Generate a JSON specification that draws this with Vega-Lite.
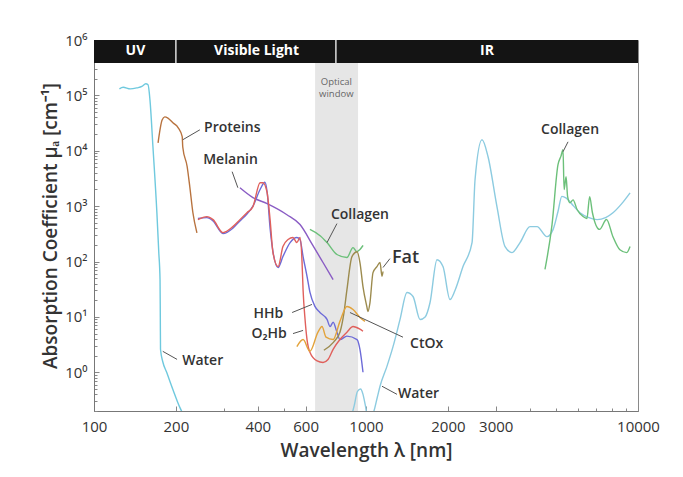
{
"$schema":"https://vega.github.io/schema/vega-lite/v6.json",
"width":544,"height":371,
"autosize":{"type":"none"},
"padding":{"left":94,"top":40,"right":45,"bottom":66},
"background":"white",
"config":{"view":{"stroke":"#8a8a8a","strokeWidth":1},"font":"Open Sans"},
"datasets":{
"window":[{"w":650,"w2":935,"a":0.2,"a2":385000}],
"band":[{"w":100,"w2":10000,"a":385000,"a2":1000000}],
"dividers":[{"w":200,"a":385000,"a2":1000000},{"w":775,"a":385000,"a2":1000000}],
"bandtext":[{"t":"UV","w":142,"a":620000},{"t":"Visible Light","w":396,"a":620000},{"t":"IR","w":2786,"a":620000}],
"notes":[{"t":"Optical","w":778,"a":178000},{"t":"window","w":778,"a":104000}],
"curves":[
{"s":"Water1","w":124,"a":131000},{"s":"Water1","w":128,"a":140000},{"s":"Water1","w":136,"a":131000},{"s":"Water1","w":144,"a":137000},{"s":"Water1","w":150,"a":145000},{"s":"Water1","w":155,"a":162000},{"s":"Water1","w":158,"a":155000},{"s":"Water1","w":160.6,"a":83000},{"s":"Water1","w":164.7,"a":11800},{"s":"Water1","w":170.3,"a":760},{"s":"Water1","w":173,"a":150},{"s":"Water1","w":174.9,"a":47},{"s":"Water1","w":175.3,"a":10},{"s":"Water1","w":175.6,"a":2.6},{"s":"Water1","w":179,"a":1.55},{"s":"Water1","w":185,"a":1.0},{"s":"Water1","w":195,"a":0.49},{"s":"Water1","w":207,"a":0.23},{"s":"Water1","w":212,"a":0.18},
{"s":"Water2","w":880,"a":0.15},{"s":"Water2","w":905,"a":0.25},{"s":"Water2","w":930,"a":0.45},{"s":"Water2","w":955,"a":0.5},{"s":"Water2","w":975,"a":0.4},{"s":"Water2","w":995,"a":0.25},{"s":"Water2","w":1016,"a":0.15},{"s":"Water2","w":1061,"a":0.18},{"s":"Water2","w":1100,"a":0.35},{"s":"Water2","w":1126,"a":0.56},{"s":"Water2","w":1194,"a":1.28},{"s":"Water2","w":1257,"a":2.9},{"s":"Water2","w":1334,"a":9},{"s":"Water2","w":1415,"a":27.6},{"s":"Water2","w":1489,"a":23.4},{"s":"Water2","w":1580,"a":9},{"s":"Water2","w":1650,"a":10},{"s":"Water2","w":1719,"a":18},{"s":"Water2","w":1824,"a":108},{"s":"Water2","w":1919,"a":81},{"s":"Water2","w":2036,"a":20.6},{"s":"Water2","w":2124,"a":30},{"s":"Water2","w":2273,"a":81},{"s":"Water2","w":2454,"a":220},{"s":"Water2","w":2517,"a":3000},{"s":"Water2","w":2670,"a":15800},{"s":"Water2","w":2810,"a":7800},{"s":"Water2","w":3030,"a":980},{"s":"Water2","w":3245,"a":186},{"s":"Water2","w":3442,"a":145},{"s":"Water2","w":3684,"a":220},{"s":"Water2","w":4009,"a":427},{"s":"Water2","w":4253,"a":427},{"s":"Water2","w":4627,"a":282},{"s":"Water2","w":4871,"a":377},{"s":"Water2","w":5080,"a":800},{"s":"Water2","w":5250,"a":1500},{"s":"Water2","w":5450,"a":1400},{"s":"Water2","w":5800,"a":1000},{"s":"Water2","w":6120,"a":760},{"s":"Water2","w":6600,"a":620},{"s":"Water2","w":7070,"a":570},{"s":"Water2","w":7600,"a":620},{"s":"Water2","w":8090,"a":760},{"s":"Water2","w":8700,"a":1100},{"s":"Water2","w":9350,"a":1740},
{"s":"Proteins","w":172,"a":13900},{"s":"Proteins","w":178,"a":36000},{"s":"Proteins","w":182,"a":41000},{"s":"Proteins","w":187,"a":39000},{"s":"Proteins","w":195,"a":32000},{"s":"Proteins","w":204,"a":26000},{"s":"Proteins","w":211,"a":18000},{"s":"Proteins","w":212,"a":11700},{"s":"Proteins","w":220,"a":5200},{"s":"Proteins","w":225,"a":2240},{"s":"Proteins","w":231,"a":760},{"s":"Proteins","w":239,"a":330},
{"s":"Melanin","w":344,"a":2150},{"s":"Melanin","w":384,"a":1430},{"s":"Melanin","w":433,"a":1110},{"s":"Melanin","w":512,"a":700},{"s":"Melanin","w":572,"a":465},{"s":"Melanin","w":636,"a":200},{"s":"Melanin","w":695,"a":96},{"s":"Melanin","w":757,"a":47},
{"s":"Collagen1","w":622,"a":380},{"s":"Collagen1","w":680,"a":290},{"s":"Collagen1","w":719,"a":220},{"s":"Collagen1","w":782,"a":134},{"s":"Collagen1","w":851,"a":118},{"s":"Collagen1","w":896,"a":178},{"s":"Collagen1","w":925,"a":150},{"s":"Collagen1","w":950,"a":165},{"s":"Collagen1","w":975,"a":195},
{"s":"Collagen2","w":4550,"a":72},{"s":"Collagen2","w":4830,"a":465},{"s":"Collagen2","w":5080,"a":5600},{"s":"Collagen2","w":5210,"a":8000},{"s":"Collagen2","w":5300,"a":10400},{"s":"Collagen2","w":5350,"a":2000},{"s":"Collagen2","w":5440,"a":3400},{"s":"Collagen2","w":5510,"a":1500},{"s":"Collagen2","w":5620,"a":1150},{"s":"Collagen2","w":5770,"a":1300},{"s":"Collagen2","w":5970,"a":870},{"s":"Collagen2","w":6280,"a":650},{"s":"Collagen2","w":6490,"a":600},{"s":"Collagen2","w":6640,"a":1480},{"s":"Collagen2","w":6800,"a":760},{"s":"Collagen2","w":7220,"a":380},{"s":"Collagen2","w":7660,"a":575},{"s":"Collagen2","w":8090,"a":280},{"s":"Collagen2","w":8580,"a":163},{"s":"Collagen2","w":9090,"a":145},{"s":"Collagen2","w":9350,"a":186},
{"s":"HHb","w":241,"a":600},{"s":"HHb","w":260,"a":620},{"s":"HHb","w":274,"a":540},{"s":"HHb","w":298,"a":320},{"s":"HHb","w":324,"a":400},{"s":"HHb","w":344,"a":540},{"s":"HHb","w":365,"a":720},{"s":"HHb","w":384,"a":1000},{"s":"HHb","w":408,"a":2000},{"s":"HHb","w":425,"a":2700},{"s":"HHb","w":433,"a":1800},{"s":"HHb","w":444,"a":400},{"s":"HHb","w":455,"a":150},{"s":"HHb","w":475,"a":78},{"s":"HHb","w":495,"a":123},{"s":"HHb","w":526,"a":220},{"s":"HHb","w":557,"a":271},{"s":"HHb","w":572,"a":249},{"s":"HHb","w":587,"a":123},{"s":"HHb","w":607,"a":54},{"s":"HHb","w":622,"a":28},{"s":"HHb","w":649,"a":15.5},{"s":"HHb","w":677,"a":12},{"s":"HHb","w":719,"a":9},{"s":"HHb","w":738,"a":6.7},{"s":"HHb","w":757,"a":8},{"s":"HHb","w":782,"a":5.3},{"s":"HHb","w":802,"a":3.9},{"s":"HHb","w":851,"a":4.5},{"s":"HHb","w":927,"a":3.9},{"s":"HHb","w":950,"a":2.6},{"s":"HHb","w":975,"a":1.0},
{"s":"O2Hb","w":241,"a":571},{"s":"O2Hb","w":260,"a":647},{"s":"O2Hb","w":274,"a":571},{"s":"O2Hb","w":298,"a":333},{"s":"O2Hb","w":324,"a":427},{"s":"O2Hb","w":344,"a":571},{"s":"O2Hb","w":365,"a":763},{"s":"O2Hb","w":384,"a":980},{"s":"O2Hb","w":408,"a":2650},{"s":"O2Hb","w":418,"a":2650},{"s":"O2Hb","w":433,"a":1750},{"s":"O2Hb","w":444,"a":571},{"s":"O2Hb","w":455,"a":145},{"s":"O2Hb","w":475,"a":81},{"s":"O2Hb","w":495,"a":186},{"s":"O2Hb","w":517,"a":249},{"s":"O2Hb","w":539,"a":271},{"s":"O2Hb","w":557,"a":220},{"s":"O2Hb","w":572,"a":271},{"s":"O2Hb","w":582,"a":96},{"s":"O2Hb","w":587,"a":31},{"s":"O2Hb","w":597,"a":9},{"s":"O2Hb","w":607,"a":3.9},{"s":"O2Hb","w":622,"a":2.3},{"s":"O2Hb","w":661,"a":1.6},{"s":"O2Hb","w":695,"a":1.5},{"s":"O2Hb","w":725,"a":1.7},{"s":"O2Hb","w":757,"a":2.6},{"s":"O2Hb","w":802,"a":3.9},{"s":"O2Hb","w":851,"a":5.3},{"s":"O2Hb","w":896,"a":6.7},{"s":"O2Hb","w":950,"a":6},{"s":"O2Hb","w":975,"a":5.5},
{"s":"Fat","w":700,"a":2.5},{"s":"Fat","w":760,"a":3.5},{"s":"Fat","w":802,"a":5.3},{"s":"Fat","w":830,"a":12},{"s":"Fat","w":851,"a":31},{"s":"Fat","w":888,"a":123},{"s":"Fat","w":927,"a":150},{"s":"Fat","w":950,"a":96},{"s":"Fat","w":975,"a":35},{"s":"Fat","w":1008,"a":15},{"s":"Fat","w":1016,"a":12.5},{"s":"Fat","w":1034,"a":18},{"s":"Fat","w":1061,"a":63},{"s":"Fat","w":1097,"a":81},{"s":"Fat","w":1126,"a":96},{"s":"Fat","w":1145,"a":54},{"s":"Fat","w":1155,"a":66},
{"s":"CtOx","w":557,"a":2.9},{"s":"CtOx","w":587,"a":3.9},{"s":"CtOx","w":622,"a":2.4},{"s":"CtOx","w":666,"a":5.3},{"s":"CtOx","w":689,"a":6.7},{"s":"CtOx","w":713,"a":4.3},{"s":"CtOx","w":757,"a":3.9},{"s":"CtOx","w":802,"a":8.3},{"s":"CtOx","w":851,"a":15.4},{"s":"CtOx","w":896,"a":13.6},{"s":"CtOx","w":950,"a":9.8},{"s":"CtOx","w":991,"a":8.3}
],
"leaders":[
{"w":212,"a":15800,"w2":245,"a2":23900},
{"w":322,"a":4190,"w2":338,"a2":2150},
{"w":782,"a":484,"w2":719,"a2":220},
{"w":1225,"a":113,"w2":1155,"a2":78},
{"w":535,"a":12,"w2":633,"a2":16.8},
{"w":539,"a":5.0,"w2":587,"a2":5.7},
{"w":1368,"a":4.3,"w2":873,"a2":12},
{"w":179,"a":2.39,"w2":202,"a2":1.71},
{"w":1145,"a":0.56,"w2":1300,"a2":0.40},
{"w":5530,"a":14500,"w2":5300,"a2":9600}
],
"labels":[
{"t":"Proteins","w":254,"a":26000},
{"t":"Melanin","w":252,"a":6890},
{"t":"Collagen","w":743,"a":703},
{"t":"Fat","w":1246,"a":118},
{"t":"HHb","w":386,"a":11.5},
{"t":"O₂Hb","w":379,"a":4.84},
{"t":"CtOx","w":1452,"a":3.2},
{"t":"Water","w":211,"a":1.58},
{"t":"Water","w":1311,"a":0.40},
{"t":"Collagen","w":4400,"a":23900}
]
},
"encoding":{
"x":{"field":"w","type":"quantitative","scale":{"type":"log","domain":[100,10000],"nice":false},
 "axis":{"values":[100,200,300,400,500,600,700,800,900,1000,2000,3000,4000,5000,6000,7000,8000,9000,10000],
 "labelExpr":"indexof([100,200,400,600,1000,2000,3000,10000], datum.value) >= 0 ? '' + datum.value : ''",
 "tickSize":{"condition":{"test":"indexof([100,200,400,600,1000,2000,3000,10000], datum.value) >= 0","value":-5},"value":-3},
 "title":"Wavelength λ [nm]","grid":false,"domainColor":"#777","tickColor":"#888","labelFontSize":15,"labelColor":"#333","labelPadding":13,"labelOverlap":false,"labelFlush":false,
 "titleFontSize":19,"titleColor":"#333","titleFontWeight":600,"titlePadding":5}},
"y":{"field":"a","type":"quantitative","scale":{"type":"log","domain":[0.2,1000000],"nice":false},
 "axis":{"values":[0.2,0.3,0.4,0.5,0.6,0.7,0.8,0.9,1,2,3,4,5,6,7,8,9,10,20,30,40,50,60,70,80,90,100,200,300,400,500,600,700,800,900,1000,2000,3000,4000,5000,6000,7000,8000,9000,10000,20000,30000,40000,50000,60000,70000,80000,90000,100000,200000,300000,1000000],
 "labelExpr":"abs(log(datum.value)/LN10 - round(log(datum.value)/LN10)) < 0.001 ? '10' + ['⁰','¹','²','³','⁴','⁵','⁶'][round(log(datum.value)/LN10)] : ''",
 "tickSize":{"condition":{"test":"abs(log(datum.value)/LN10 - round(log(datum.value)/LN10)) < 0.001","value":-5},"value":-3},
 "title":"Absorption Coefficient μₐ [cm⁻¹]","grid":false,"domainColor":"#777","tickColor":"#888","labelFontSize":15,"labelColor":"#333","labelPadding":12,"labelOverlap":false,"labelFlush":false,
 "titleFontSize":19,"titleColor":"#333","titleFontWeight":600,"titlePadding":4}}
},
"layer":[
{"data":{"name":"window"},"mark":{"type":"rect","color":"#e6e6e6"},"encoding":{"x2":{"field":"w2"},"y2":{"field":"a2"}}},
{"data":{"name":"band"},"mark":{"type":"rect","color":"#141414"},"encoding":{"x2":{"field":"w2"},"y2":{"field":"a2"}}},
{"data":{"name":"dividers"},"mark":{"type":"rule","color":"#dddddd","strokeWidth":1.5},"encoding":{"y2":{"field":"a2"}}},
{"data":{"name":"bandtext"},"mark":{"type":"text","color":"white","fontSize":14,"fontWeight":"bold","baseline":"middle"},"encoding":{"text":{"field":"t"}}},
{"data":{"name":"notes"},"mark":{"type":"text","color":"#666","fontSize":9.5,"baseline":"middle"},"encoding":{"text":{"field":"t"}}},
{"data":{"name":"curves"},"mark":{"type":"line","strokeWidth":1.4,"clip":true,"interpolate":"monotone"},
 "encoding":{"color":{"field":"s","type":"nominal","legend":null,
  "scale":{"domain":["Water1","Water2","Proteins","Melanin","Collagen1","Collagen2","HHb","O2Hb","Fat","CtOx"],
  "range":["#6fc9de","#8ccbe0","#b8733f","#8a5cc4","#6cc07a","#6cc07a","#6d6bd8","#e0605c","#9c8b4e","#e3a33b"]}}}},
{"data":{"name":"leaders"},"mark":{"type":"rule","color":"#555","strokeWidth":1},"encoding":{"x2":{"field":"w2"},"y2":{"field":"a2"}}},
{"data":{"name":"labels"},"mark":{"type":"text","color":"#333","align":"left","baseline":"middle","fontWeight":600},
 "encoding":{"text":{"field":"t"},"size":{"condition":{"test":"datum.t == 'Fat'","value":18},"value":14}}}
]
}
